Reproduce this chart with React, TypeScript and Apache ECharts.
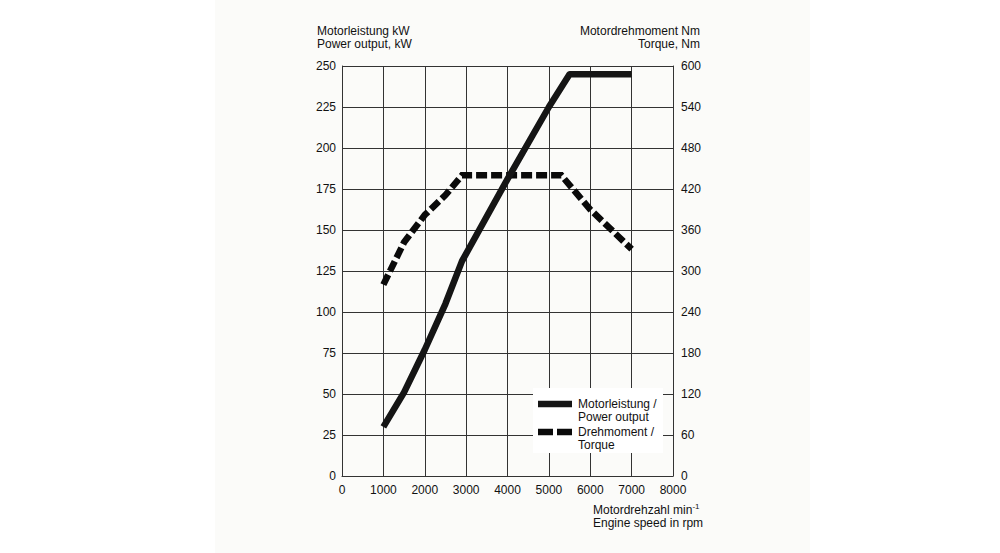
import React, { useEffect, useRef } from "react";
import * as echarts from "echarts";

const rpmTicks = [0, 1000, 2000, 3000, 4000, 5000, 6000, 7000, 8000];
const powerRpm = [1000, 1500, 2000, 2500, 2900, 4000, 5000, 5500, 7000];
const powerKw = [30, 51, 77, 105, 131, 181, 225, 245, 245];
const torqueRpm = [1000, 1500, 2000, 2500, 2900, 5300, 6000, 7000];
const torqueNm = [280, 342, 382, 411, 440, 440, 390, 332];

const FONT = "'Liberation Sans', Arial, Helvetica, sans-serif";
const TXT = "#111111";
const GRID = "#333333";
const FS = 12;

export default function App() {
  const ref = useRef<HTMLDivElement>(null);
  useEffect(() => {
    if (!ref.current) return;
    const chart = echarts.init(ref.current, undefined, { renderer: "svg" });
    const txt = (x: number, y: number, s: string, align: string = "left") => ({
      type: "text",
      x,
      y,
      style: {
        text: s,
        fill: TXT,
        font: `${FS}px ${FONT}`,
        textAlign: align,
        textVerticalAlign: "middle",
      },
      z: 10,
    });
    chart.setOption({
      animation: false,
      backgroundColor: "#ffffff",
      textStyle: { fontFamily: FONT },
      grid: { left: 342, right: 327, top: 66, bottom: 77, containLabel: false },
      xAxis: {
        type: "value",
        min: 0,
        max: 8000,
        interval: 1000,
        axisLine: { show: true, lineStyle: { color: GRID, width: 1 } },
        axisTick: { show: false },
        splitLine: { show: true, lineStyle: { color: GRID, width: 1 } },
        axisLabel: {
          color: TXT,
          fontSize: FS,
          fontFamily: FONT,
          margin: 8,
          showMaxLabel: true,
          showMinLabel: true,
          formatter: (v: number) => (rpmTicks.includes(v) ? String(v) : ""),
        },
      },
      yAxis: [
        {
          type: "value",
          min: 0,
          max: 250,
          interval: 25,
          position: "left",
          axisLine: { show: true, lineStyle: { color: GRID, width: 1 } },
          axisTick: { show: false },
          splitLine: { show: true, lineStyle: { color: GRID, width: 1 } },
          axisLabel: { color: TXT, fontSize: FS, fontFamily: FONT, margin: 6 },
        },
        {
          type: "value",
          min: 0,
          max: 600,
          interval: 60,
          position: "right",
          axisLine: { show: true, lineStyle: { color: GRID, width: 1 } },
          axisTick: { show: false },
          splitLine: { show: false },
          axisLabel: { color: TXT, fontSize: FS, fontFamily: FONT, margin: 8 },
        },
      ],
      series: [
        {
          name: "Motorleistung / Power output",
          type: "line",
          yAxisIndex: 0,
          data: powerRpm.map((r, i) => [r, powerKw[i]]),
          showSymbol: false,
          symbol: "none",
          lineStyle: { color: "#151515", width: 6.5, cap: "butt", join: "round" },
          z: 5,
        },
        {
          name: "Drehmoment / Torque",
          type: "line",
          yAxisIndex: 1,
          data: torqueRpm.map((r, i) => [r, torqueNm[i]]),
          showSymbol: false,
          symbol: "none",
          lineStyle: { color: "#0a0a0a", width: 6.5, type: [11, 4], cap: "butt", join: "miter" },
          z: 4,
        },
      ],
      graphic: [
        {
          type: "rect",
          shape: { x: 215, y: 0, width: 595, height: 553 },
          style: { fill: "#fbfbf9" },
          z: -10,
          silent: true,
        },
        {
          type: "rect",
          shape: { x: 533, y: 388, width: 130, height: 65 },
          style: { fill: "#ffffff" },
          z: 8,
        },
        {
          type: "line",
          shape: { x1: 538, y1: 404, x2: 572, y2: 404 },
          style: { stroke: "#151515", lineWidth: 6.5 },
          z: 9,
        },
        {
          type: "line",
          shape: { x1: 538, y1: 432, x2: 553, y2: 432 },
          style: { stroke: "#0a0a0a", lineWidth: 6.5 },
          z: 9,
        },
        {
          type: "line",
          shape: { x1: 557, y1: 432, x2: 572, y2: 432 },
          style: { stroke: "#0a0a0a", lineWidth: 6.5 },
          z: 9,
        },
        txt(578, 404, "Motorleistung /"),
        txt(578, 417, "Power output"),
        txt(578, 432, "Drehmoment /"),
        txt(578, 445, "Torque"),
        txt(317, 31, "Motorleistung kW"),
        txt(317, 44, "Power output, kW"),
        txt(700, 31, "Motordrehmoment Nm", "right"),
        txt(700, 44, "Torque, Nm", "right"),
        {
          type: "text",
          x: 593,
          y: 510,
          style: {
            text: "Motordrehzahl min{sup|-1}",
            fill: TXT,
            font: `${FS}px ${FONT}`,
            textVerticalAlign: "middle",
            rich: {
              sup: { fontSize: 8, fill: TXT, fontFamily: FONT, verticalAlign: "top", padding: [0, 0, 7, 0] },
            },
          },
          z: 10,
        },
        txt(593, 523, "Engine speed in rpm"),
      ],
    });
    return () => chart.dispose();
  }, []);
  return (
    <div
      ref={ref}
      style={{ position: "fixed", left: 0, top: 0, width: 1000, height: 553, background: "#fff" }}
    />
  );
}
